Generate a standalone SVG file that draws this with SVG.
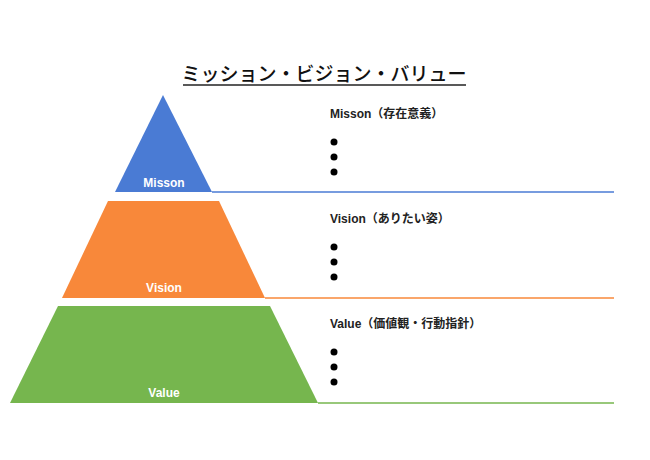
<svg xmlns="http://www.w3.org/2000/svg" width="650" height="460" viewBox="0 0 650 460">
<style>
.title{font-family:"Noto Sans CJK JP","Liberation Sans",sans-serif;font-size:19px;font-weight:500;fill:#111;text-anchor:middle}
.lbl{font-family:"Liberation Sans","Noto Sans CJK JP",sans-serif;font-size:12px;font-weight:bold;fill:#fff;text-anchor:middle}
.hd{font-family:"Liberation Sans","Noto Sans CJK JP",sans-serif;font-size:12px;font-weight:bold;fill:#222}
.dot{fill:#000}
</style>
<rect width="650" height="460" fill="#fff"/>
<g id="title">
<text class="title" x="324" y="81">ミッション・ビジョン・バリュー</text>
<line x1="183" y1="85" x2="466" y2="85" stroke="#222" stroke-width="1.5"/>
</g>
<g id="connectors" fill="none" stroke-width="1.5">
<line x1="212" y1="192" x2="614" y2="192" stroke="#4A7BD4"/>
<line x1="265" y1="298" x2="614" y2="298" stroke="#F8883A"/>
<line x1="318" y1="403" x2="614" y2="403" stroke="#76B64E"/>
</g>
<g id="mission">
<polygon points="163,95 212,192 115,192" fill="#4A7BD4"/>
<text class="lbl" x="164" y="187">Misson</text>
<text class="hd" x="330" y="118">Misson（存在意義）</text>
<circle class="dot" cx="334" cy="142" r="3.5"/>
<circle class="dot" cx="334" cy="157" r="3.5"/>
<circle class="dot" cx="334" cy="172" r="3.5"/>
</g>
<g id="vision">
<polygon points="108,201 219,201 265,298 62,298" fill="#F8883A"/>
<text class="lbl" x="164" y="292">Vision</text>
<text class="hd" x="330" y="223">Vision（ありたい姿）</text>
<circle class="dot" cx="334" cy="247" r="3.5"/>
<circle class="dot" cx="334" cy="262" r="3.5"/>
<circle class="dot" cx="334" cy="277" r="3.5"/>
</g>
<g id="value">
<polygon points="58,306 270,306 318,403 10,403" fill="#76B64E"/>
<text class="lbl" x="164" y="397">Value</text>
<text class="hd" x="330" y="328">Value（価値観・行動指針）</text>
<circle class="dot" cx="334" cy="352" r="3.5"/>
<circle class="dot" cx="334" cy="367" r="3.5"/>
<circle class="dot" cx="334" cy="382" r="3.5"/>
</g>
</svg>
